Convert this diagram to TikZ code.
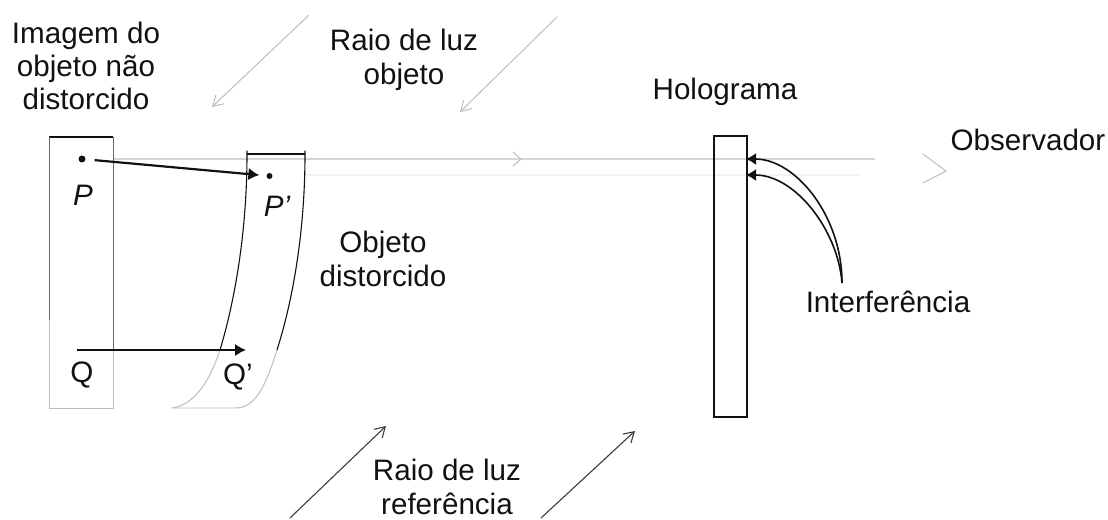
\documentclass[tikz,border=0pt]{standalone}
\usepackage{fontspec}
\setmainfont{Liberation Sans}
\usepackage{xcolor}
\usetikzlibrary{arrows.meta}
\definecolor{ink}{HTML}{111111}
\definecolor{slate}{HTML}{666666}
\definecolor{soft}{HTML}{BDBDBD}
\definecolor{faint}{HTML}{D6D6D6}
\definecolor{ghost}{HTML}{F2F2F2}
\definecolor{beam}{HTML}{3C3C3C}
\tikzset{
  plate/.style={draw=ink, line width=1.1pt},
  plateg/.style={draw=slate, line width=1.0pt},
  edge/.style={draw=soft, line width=1.0pt},
  curv/.style={draw=ink, line width=1.1pt, line cap=round},
  curvs/.style={draw=soft, line width=1.0pt, line cap=round},
  ray/.style={draw=faint, line width=1.2pt},
  ray2/.style={draw=ghost, line width=1.2pt},
  beamo/.style={draw=soft, line width=1.0pt, -{Straight Barb[length=10bp,width=12bp]}},
  beamr/.style={draw=beam, line width=1.1pt, -{Straight Barb[length=10bp,width=12bp]}},
  map/.style={draw=ink, line width=2.2pt, -{Latex[length=11bp,width=12.5bp]}},
  fringe/.style={draw=ink, line width=1.6pt, -{Latex[length=10bp,width=12bp]}},
  dot/.style={circle, fill=ink, inner sep=0pt, minimum size=7pt},
  lab/.style={text=ink, font=\fontsize{29.7}{33.5}\selectfont, align=center, inner sep=0pt},
  labi/.style={lab, font=\fontsize{29.7}{33.5}\selectfont\itshape},
}
\begin{document}
\begin{tikzpicture}[x=1bp,y=-1bp]
  \useasboundingbox (0,0) rectangle (1108,520);
  % light rays
  \coordinate (rayA) at (113,159);
  \coordinate (rayB) at (875,159);
  \coordinate (rayC) at (305,175);
  \coordinate (rayD) at (860,175);
  \draw[ray2] (rayC)--(rayD);
  \draw[ray] (rayA)--(rayB);
  \coordinate (headA) at (513,152);
  \coordinate (headB) at (521,159);
  \coordinate (headC) at (513,166);
  \draw[edge] (headA)--(headB)--(headC);
  \coordinate (eyeA) at (923,154);
  \coordinate (eyeB) at (946,171);
  \coordinate (eyeC) at (923,183);
  \draw[edge] (eyeA)--(eyeB)--(eyeC);
  % object beams
  \coordinate (objA1) at (309,15);
  \coordinate (objA2) at (212,107);
  \coordinate (objB1) at (557,17);
  \coordinate (objB2) at (460,112);
  \draw[beamo] (objA1)--(objA2);
  \draw[beamo] (objB1)--(objB2);
  % reference beams
  \coordinate (refA1) at (290,518);
  \coordinate (refA2) at (386,426);
  \coordinate (refB1) at (541,518);
  \coordinate (refB2) at (635,431);
  \draw[beamr] (refA1)--(refA2);
  \draw[beamr] (refB1)--(refB2);
  % undistorted image
  \draw[plate] (49,137)--(113,137);
  \draw[plateg] (113,137)--(113,350);
  \draw[plateg] (49,137)--(49,320);
  \draw[edge] (113,350)--(113,408)--(49,408)--(49,320);
  % distorted object
  \draw[plate] (247,154)--(305,154);
  \draw[curv] (247,151) -- (247,154) .. controls (247,220) and (238,290) .. (220,350);
  \draw[curvs] (220,350) .. controls (210,380) and (195,405) .. (172,408);
  \draw[curv] (305,151) -- (305,154) .. controls (305,220) and (296,290) .. (277,350);
  \draw[curvs] (277,350) .. controls (265,388) and (255,408) .. (235,408)--(172,408);
  % hologram
  \draw[plate] (714,136) rectangle (747,417);
  % points
  \node[dot] (P) at (82,159) {};
  \node[dot,minimum size=6pt] (Pd) at (269.5,176) {};
  \draw[map,shorten >=7pt,shorten <=9pt] (P)--(Pd);
  \coordinate (Q) at (77,350);
  \coordinate (Qd) at (246,350);
  \draw[map] (Q)--(Qd);
  % interference
  \coordinate (fr) at (842,283);
  \coordinate (frA) at (746,159);
  \coordinate (frB) at (746,175);
  \draw[fringe] (fr) .. controls (842,215) and (795,159) .. (frA);
  \draw[fringe] (fr) .. controls (838,230) and (795,175) .. (frB);
  % labels
  \node[lab] (imagem) at (86,66) {Imagem do\\objeto não\\distorcido};
  \node[lab] (raioo) at (404,60) {Raio de luz\\objeto};
  \node[lab] (raior) at (447,487) {Raio de luz\\referência};
  \node[lab] (objeto) at (383,259) {Objeto\\distorcido};
  \node[lab] (holo) at (725,92) {Holograma};
  \node[lab] (obs) at (1028,140) {Observador};
  \node[lab] (inter) at (888,302) {Interferência};
  \node[labi] (lP) at (83,195) {P};
  \node[labi] (lPd) at (277,206) {P'};
  \node[lab] (lQ) at (82,375) {Q};
  \node[lab] (lQd) at (238,377) {Q'};
\end{tikzpicture}
\end{document}
